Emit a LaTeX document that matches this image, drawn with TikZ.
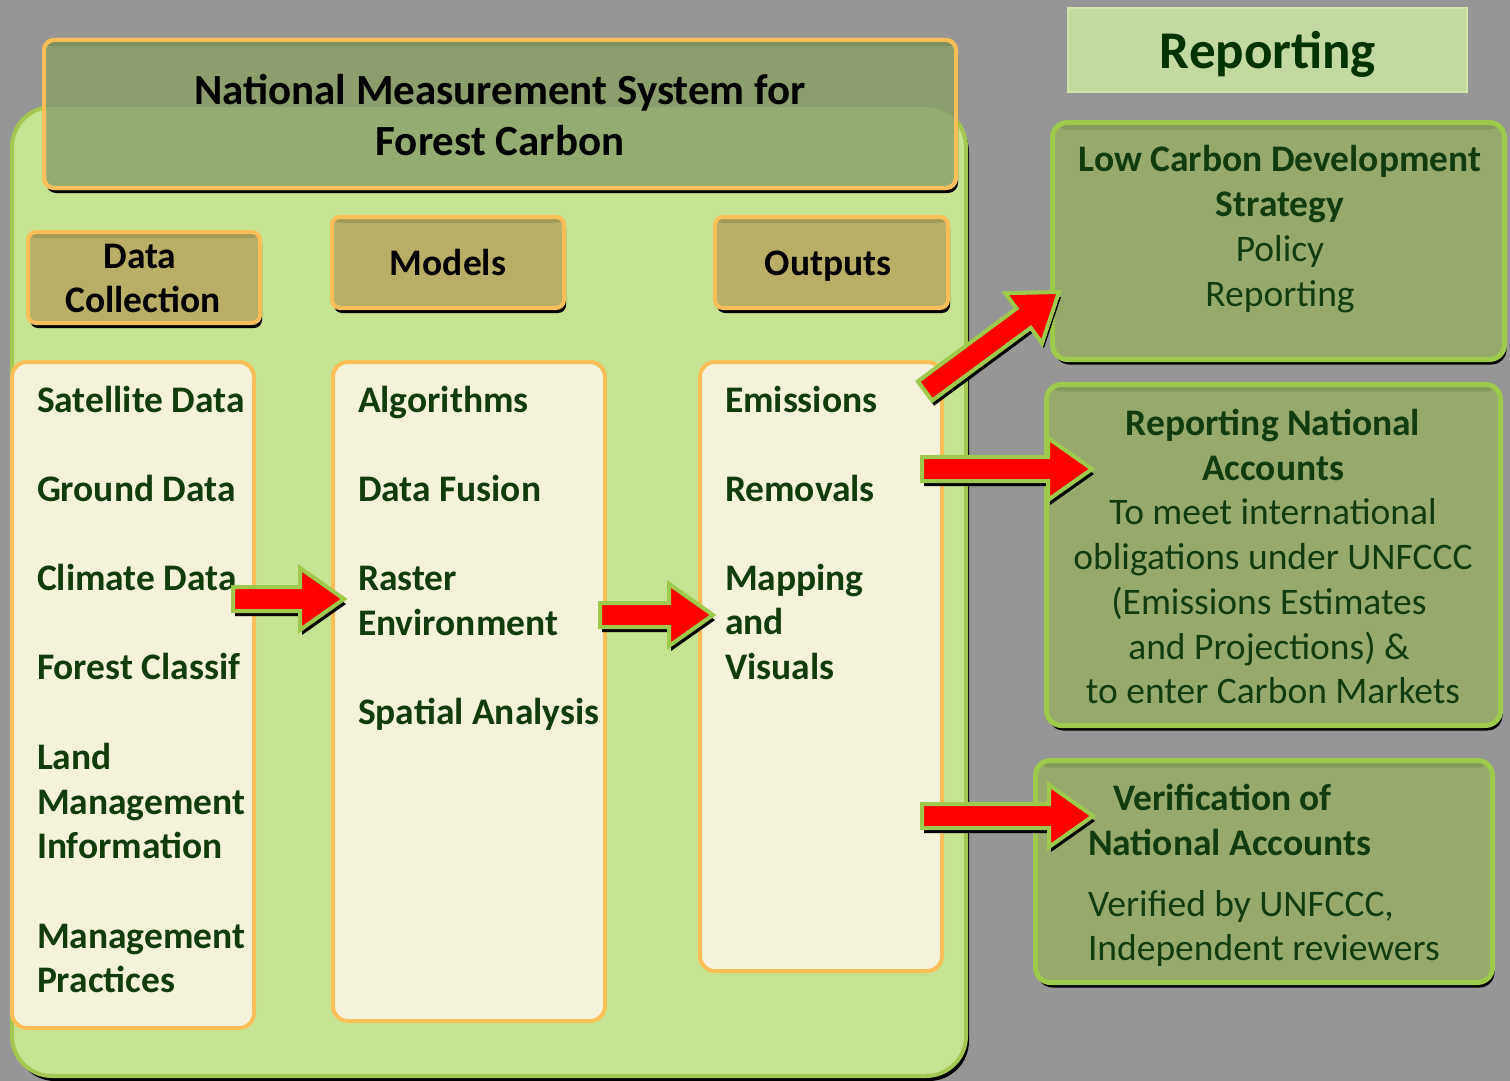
\documentclass[tikz,border=0pt]{standalone}
\usepackage{fontspec}
\setmainfont{Carlito}
\usetikzlibrary{calc,shadows}
\definecolor{bg}{RGB}{150,150,150}
\definecolor{biggreen}{RGB}{197,227,145}
\definecolor{bigborder}{RGB}{163,199,80}
\definecolor{cream}{RGB}{244,242,218}
\definecolor{orangeb}{RGB}{251,191,90}
\definecolor{hdrfill}{RGB}{184,174,102}
\definecolor{hdrdark}{RGB}{162,152,88}
\definecolor{titlefill}{RGB}{148,172,112}
\definecolor{titledark}{RGB}{139,158,108}
\definecolor{titletop}{RGB}{125,145,95}
\definecolor{rfill}{RGB}{151,170,108}
\definecolor{rtop}{RGB}{135,154,94}
\definecolor{rborder}{RGB}{157,201,76}
\definecolor{repfill}{RGB}{196,217,160}
\definecolor{repborder}{RGB}{208,228,172}
\definecolor{txtgreen}{RGB}{18,60,14}
\definecolor{reptxt}{RGB}{0,51,0}
\definecolor{arrgreen}{RGB}{157,201,76}
\newcommand\blockarrow[2]{%
  \path let \p1=($(#2)-(#1)$) in \pgfextra{%
    \pgfmathsetmacro\baang{atan2(\y1,\x1)}%
    \pgfmathsetmacro\balen{veclen(\x1,\y1)}%
    \xdef\baAng{\baang}\xdef\baLen{\balen}};
  \begin{scope}[shift={(#1)}]
    \fill[black, shift={(2,5)}, rotate=\baAng]
      (0,-12) -- (\baLen-44,-12) -- (\baLen-44,-31) -- (\baLen,0) --
      (\baLen-44,31) -- (\baLen-44,12) -- (0,12) -- cycle;
    \filldraw[blockarr, rotate=\baAng]
      (0,-12) -- (\baLen-44,-12) -- (\baLen-44,-31) -- (\baLen,0) --
      (\baLen-44,31) -- (\baLen-44,12) -- (0,12) -- cycle;
  \end{scope}}
\begin{document}
\begin{tikzpicture}[x=1pt,y=-1pt,
  every node/.style={inner sep=0pt, outer sep=0pt},
  blockarr/.style={fill=red, draw=arrgreen, line width=4pt, line join=miter},
  shad/.style={drop shadow={shadow xshift=#1, shadow yshift=-5pt, fill=black, opacity=1}},
  shad/.default=2pt,
  bigbox/.style={rectangle, fill=biggreen, draw=bigborder, line width=4pt, rounded corners=40pt, shad=3pt, anchor=north west},
  titlebox/.style={rectangle, fill=titlefill, draw=orangeb, line width=4pt, rounded corners=10pt, shad, anchor=north west},
  hdrbox/.style={rectangle, fill=hdrfill, draw=orangeb, line width=4pt, rounded corners=8pt, shad, anchor=north west,
    path picture={\fill[hdrdark] (path picture bounding box.north west) rectangle ([yshift=-6pt]path picture bounding box.north east);}},
  creambox/.style={rectangle, fill=cream, draw=orangeb, line width=4pt, rounded corners=15pt, anchor=north west},
  rbox/.style={rectangle, fill=rfill, draw=rborder, line width=5pt, rounded corners=15pt, shad, anchor=north west,
    path picture={\fill[rtop] (path picture bounding box.north west) rectangle ([yshift=-7pt]path picture bounding box.north east);}},
  repbox/.style={rectangle, fill=repfill, draw=repborder, line width=2pt, anchor=north west},
  titletxt/.style={anchor=base, font=\fontsize{43}{52}\selectfont\bfseries, text=black},
  hdrtxt/.style={anchor=base, font=\fontsize{37.5}{45}\selectfont\bfseries, text=black},
  lst/.style={anchor=base west, font=\fontsize{37.5}{45}\selectfont\bfseries, text=txtgreen},
  rb/.style={anchor=base, font=\fontsize{37.5}{45}\selectfont\bfseries, text=txtgreen},
  rr/.style={anchor=base, font=\fontsize{37.5}{45}\selectfont, text=txtgreen},
  rbl/.style={anchor=base west, font=\fontsize{37.5}{45}\selectfont\bfseries, text=txtgreen},
  rrl/.style={anchor=base west, font=\fontsize{37.5}{45}\selectfont, text=txtgreen},
]
\useasboundingbox (0,0) rectangle (1510,1081);
\fill[bg] (0,0) rectangle (1510,1081);

% main container
\node[bigbox, minimum width=954pt, minimum height=969pt] (main) at (12,107) {};

% title box
\node[titlebox, minimum width=912pt, minimum height=148pt] (title) at (44,40) {};
\begin{scope}
  \clip[rounded corners=10pt] (title.north west) rectangle (title.south east);
  \fill[titledark, even odd rule] (0,0) rectangle (1510,1081)
     [rounded corners=40pt] (12,107) rectangle (966,1076);
  \fill[titletop] (title.north west) rectangle ([yshift=-6pt]title.north east);
\end{scope}
\draw[orangeb, line width=4pt, rounded corners=10pt] (title.north west) rectangle (title.south east);
\node[titletxt] (t1) at (500,104) {National Measurement System for};
\node[titletxt] (t2) at (500,155) {Forest Carbon};

% column headers
\node[hdrbox, minimum width=232pt, minimum height=91pt] (hdc) at (28,232) {};
\node[hdrbox, minimum width=232pt, minimum height=91pt] (hmo) at (332,217) {};
\node[hdrbox, minimum width=233pt, minimum height=91pt] (hou) at (715,217) {};
\node[hdrtxt] (hdc1) at (140,268) {Data};
\node[hdrtxt] (hdc2) at (143,312) {Collection};
\node[hdrtxt] (hmo1) at (448,275) {Models};
\node[hdrtxt] (hou1) at (828,275) {Outputs};

% column boxes
\node[creambox, minimum width=242pt, minimum height=666pt] (cdc) at (12,362) {};
\node[creambox, minimum width=272pt, minimum height=659pt] (cmo) at (333,362) {};
\node[creambox, minimum width=242pt, minimum height=609pt] (cou) at (700,362) {};

% data collection list
\node[lst] (d1) at (37,412) {Satellite Data};
\node[lst] (d2) at (37,501) {Ground Data};
\node[lst] (d3) at (37,590) {Climate Data};
\node[lst] (d4) at (37,679) {Forest Classif};
\node[lst] (d5) at (37,769) {Land};
\node[lst] (d6) at (37,814) {Management};
\node[lst] (d7) at (37,858) {Information};
\node[lst] (d8) at (37,948) {Management};
\node[lst] (d9) at (37,992) {Practices};

% models list
\node[lst] (m1) at (358,412) {Algorithms};
\node[lst] (m2) at (358,501) {Data Fusion};
\node[lst] (m3) at (358,590) {Raster};
\node[lst] (m4) at (358,635) {Environment};
\node[lst] (m5) at (358,724) {Spatial Analysis};

% outputs list
\node[lst] (o1) at (725,412) {Emissions};
\node[lst] (o2) at (725,501) {Removals};
\node[lst] (o3) at (725,590) {Mapping};
\node[lst] (o4) at (725,634) {and};
\node[lst] (o5) at (725,679) {Visuals};

% reporting header
\node[repbox, minimum width=399pt, minimum height=84pt] (rep) at (1068,8) {};
\node[anchor=base, font=\fontsize{53}{63}\selectfont\bfseries, text=reptxt] (rept) at (1268,69) {Reporting};

% right boxes
\node[rbox, minimum width=452pt, minimum height=237pt] (r1) at (1052.5,122.5) {};
\node[rbox, minimum width=454pt, minimum height=341pt] (r2) at (1046.5,384.5) {};
\node[rbox, minimum width=457pt, minimum height=222pt] (r3) at (1035.5,760.5) {};

\node[rb] (r1a) at (1280,171) {Low Carbon Development};
\node[rb] (r1b) at (1280,216) {Strategy};
\node[rr] (r1c) at (1280,261) {Policy};
\node[rr] (r1d) at (1280,306) {Reporting};

\node[rb] (r2a) at (1273,435) {Reporting National};
\node[rb] (r2b) at (1273,480) {Accounts};
\node[rr] (r2c) at (1273,524) {To meet international};
\node[rr] (r2d) at (1273,569) {obligations under UNFCCC};
\node[rr] (r2e) at (1269,614) {(Emissions Estimates};
\node[rr] (r2f) at (1269,659) {and Projections) \&};
\node[rr] (r2g) at (1273,703) {to enter Carbon Markets};

\node[rbl] (r3a) at (1113,810) {Verification of};
\node[rbl] (r3b) at (1088,855) {National Accounts};
\node[rrl] (r3c) at (1088,916) {Verified by UNFCCC,};
\node[rrl] (r3d) at (1088,960) {Independent reviewers};

% arrows
\coordinate (a1s) at (233,599);  \coordinate (a1t) at (344,599);
\coordinate (a2s) at (600,615);  \coordinate (a2t) at (713,615);
\coordinate (a3s) at (925,391);  \coordinate (a3t) at (1059,292);
\coordinate (a4s) at (922,469);  \coordinate (a4t) at (1092,469);
\coordinate (a5s) at (922,816);  \coordinate (a5t) at (1093,816);
\blockarrow{a1s}{a1t}
\blockarrow{a2s}{a2t}
\blockarrow{a3s}{a3t}
\blockarrow{a4s}{a4t}
\blockarrow{a5s}{a5t}
\end{tikzpicture}
\end{document}
